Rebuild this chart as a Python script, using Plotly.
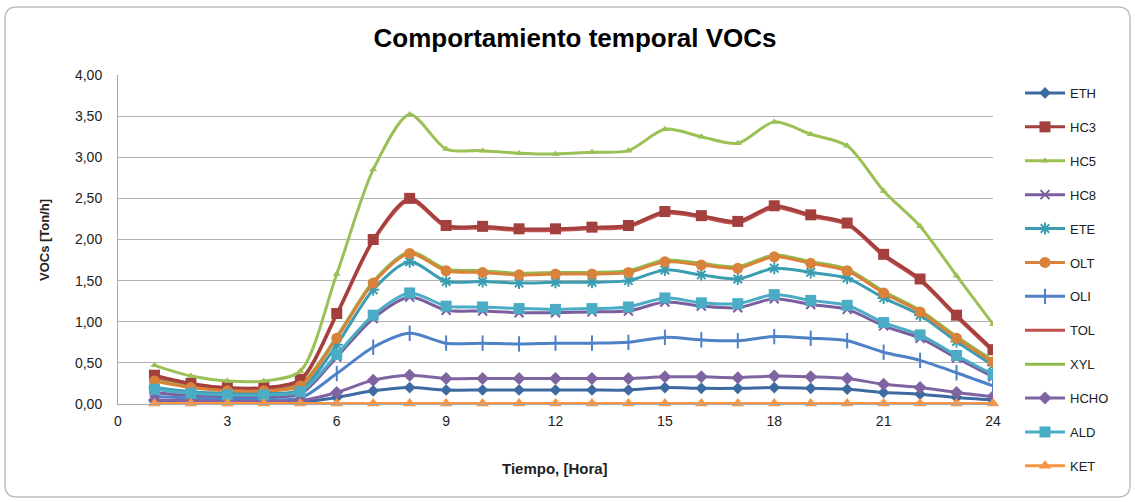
import plotly.graph_objects as go

hours = list(range(1, 25))
x_ticks = [0, 3, 6, 9, 12, 15, 18, 21, 24]

ETH = [0.03,0.02,0.02,0.02,0.02,0.08,0.16,0.20,0.17,0.17,0.17,0.17,0.17,0.17,0.20,0.19,0.19,0.20,0.19,0.18,0.14,0.12,0.08,0.05]
HC3 = [0.35,0.25,0.20,0.20,0.30,1.10,2.00,2.50,2.17,2.16,2.13,2.13,2.15,2.17,2.34,2.29,2.22,2.41,2.30,2.20,1.82,1.52,1.08,0.66]
HC5 = [0.47,0.34,0.28,0.28,0.40,1.58,2.85,3.52,3.10,3.08,3.05,3.04,3.06,3.08,3.34,3.25,3.17,3.43,3.28,3.14,2.59,2.16,1.56,0.97]
HC8 = [0.14,0.10,0.09,0.09,0.12,0.57,1.04,1.30,1.14,1.13,1.11,1.11,1.12,1.13,1.24,1.19,1.17,1.28,1.21,1.15,0.95,0.80,0.56,0.33]
ETE = [0.20,0.15,0.13,0.13,0.17,0.72,1.39,1.73,1.49,1.49,1.47,1.48,1.48,1.50,1.63,1.57,1.52,1.65,1.60,1.53,1.29,1.08,0.76,0.47]
OLT = [0.28,0.20,0.16,0.16,0.22,0.80,1.47,1.83,1.62,1.60,1.57,1.58,1.58,1.60,1.73,1.69,1.65,1.79,1.71,1.62,1.35,1.12,0.80,0.51]
OLI = [0.09,0.07,0.06,0.06,0.07,0.37,0.69,0.86,0.74,0.74,0.73,0.74,0.74,0.75,0.81,0.78,0.77,0.82,0.80,0.77,0.63,0.53,0.38,0.22]
TOL = [0.33,0.24,0.19,0.19,0.28,1.08,1.98,2.48,2.15,2.14,2.11,2.11,2.13,2.15,2.32,2.27,2.20,2.39,2.28,2.18,1.80,1.50,1.06,0.64]
XYL = [0.30,0.22,0.18,0.18,0.24,0.82,1.49,1.85,1.64,1.62,1.59,1.60,1.60,1.62,1.75,1.71,1.67,1.81,1.73,1.64,1.37,1.14,0.82,0.53]
HCHO = [0.05,0.04,0.03,0.03,0.04,0.14,0.29,0.35,0.31,0.31,0.31,0.31,0.31,0.31,0.33,0.33,0.32,0.34,0.33,0.31,0.24,0.20,0.14,0.09]
ALD = [0.18,0.13,0.11,0.11,0.15,0.60,1.08,1.35,1.19,1.18,1.16,1.15,1.16,1.18,1.29,1.23,1.22,1.33,1.26,1.20,0.99,0.84,0.59,0.36]
KET = [0.005] * 24

series = [
    ("ETH", ETH, "#3D6AA0", "diamond", 9),
    ("HC3", HC3, "#A33F3D", "square", 11),
    ("HC5", HC5, "#9BC056", "triangle-up", 7),
    ("HC8", HC8, "#7B5E9E", "x-thin", 9),
    ("ETE", ETE, "#3A9DB2", "asterisk", 10),
    ("OLT", OLT, "#D9823A", "circle", 11),
    ("OLI", OLI, "#4F81C7", "line-ns", 11),
    ("TOL", TOL, "#C0504D", None, 0),
    ("XYL", XYL, "#8FBB4E", None, 0),
    ("HCHO", HCHO, "#8064A2", "diamond", 10),
    ("ALD", ALD, "#4BACC6", "square", 11),
    ("KET", KET, "#F79646", "triangle-up", 11),
]
draw_order = ["XYL", "TOL", "ETH", "HC3", "HC5", "HC8", "ETE", "OLT", "OLI", "HCHO", "ALD", "KET"]
rank = {s[0]: i for i, s in enumerate(series)}
lookup = {s[0]: s for s in series}

fig = go.Figure()
for nm in draw_order:
    name, vals, color, sym, size = lookup[nm]
    mode = "lines+markers" if sym else "lines"
    marker = dict(color=color, size=size)
    if sym:
        marker["symbol"] = sym
        marker["line"] = dict(color=color, width=2 if sym in ("x-thin", "asterisk", "line-ns") else 0)
    fig.add_trace(go.Scatter(
        x=hours, y=vals, name=name, mode=mode,
        line=dict(color=color, width=3, shape="spline", smoothing=0.8),
        marker=marker, legendrank=rank[name] + 1, legendgroup=name,
        cliponaxis=False if name == "KET" else True,
    ))

L0, R0, T0, B0 = 118, 993, 75, 404
def px(xp):
    return (xp - L0) / (R0 - L0)
def py(yp):
    return (B0 - yp) / (B0 - T0)
Lp, Rp, Tp, Bp = px(5), px(1130), py(7), py(497)
dx, dy = 12 / (R0 - L0), 12 / (B0 - T0)
path = (f"M {Lp+dx},{Tp} L {Rp-dx},{Tp} Q {Rp},{Tp} {Rp},{Tp-dy} "
        f"L {Rp},{Bp+dy} Q {Rp},{Bp} {Rp-dx},{Bp} L {Lp+dx},{Bp} "
        f"Q {Lp},{Bp} {Lp},{Bp+dy} L {Lp},{Tp-dy} Q {Lp},{Tp} {Lp+dx},{Tp} Z")

fig.update_layout(
    width=1135, height=502,
    margin=dict(l=L0, r=1135 - R0, t=T0, b=502 - B0, autoexpand=False),
    paper_bgcolor="white", plot_bgcolor="white",
    separators=", ",
    font=dict(family="Liberation Sans, Arial, sans-serif", color="#222222", size=13),
    title=dict(text="<b>Comportamiento temporal VOCs</b>", x=575 / 1135, xref="container",
               y=1 - 38 / 502, yref="container", xanchor="center", yanchor="middle",
               font=dict(size=26, color="black")),
    xaxis=dict(range=[0, 24], tickvals=x_ticks, ticktext=[str(v) for v in x_ticks],
               showgrid=False, showline=True, linecolor="#A6A6A6", linewidth=1,
               ticks="", zeroline=False, tickfont=dict(size=14), ticklabelstandoff=4),
    yaxis=dict(range=[0, 4], dtick=0.5, tickformat=".2f", showgrid=True,
               gridcolor="#B3B3B3", gridwidth=1, showline=True, linecolor="#A6A6A6",
               linewidth=1, ticks="", zeroline=False, tickfont=dict(size=14),
               ticklabelstandoff=12),
    legend=dict(x=px(1020), y=py(78), xanchor="left", yanchor="top",
                traceorder="grouped", tracegroupgap=14, maxheight=480,
                font=dict(size=13, color="#222222"), bgcolor="rgba(0,0,0,0)",
                itemwidth=40),
    showlegend=True,
    shapes=[dict(type="path", path=path, xref="paper", yref="paper",
                 line=dict(color="#BFBFBF", width=1.5), layer="below")],
    annotations=[
        dict(text="<b>Tiempo, [Hora]</b>", x=px(555), y=py(468), xref="paper", yref="paper",
             showarrow=False, font=dict(size=15, color="#222222"), xanchor="center", yanchor="middle"),
        dict(text="<b>VOCs [Ton/h]</b>", x=px(44), y=py(240), xref="paper", yref="paper",
             showarrow=False, textangle=-90, font=dict(size=13, color="#222222"),
             xanchor="center", yanchor="middle"),
    ],
)

fig.write_html("out.html", config={"displayModeBar": False},
               post_script="document.body.style.margin='0';")
